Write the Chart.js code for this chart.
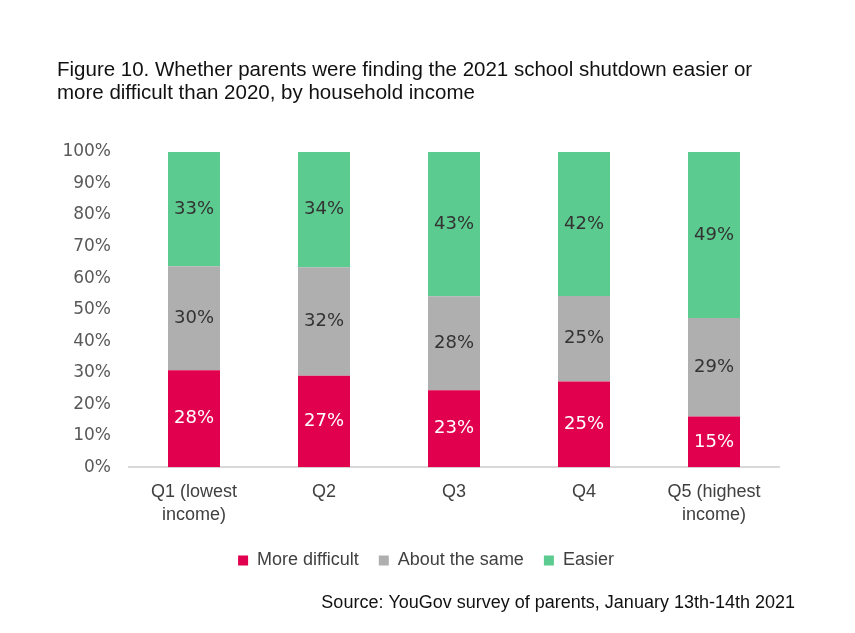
<!DOCTYPE html>
<html>
<head>
<meta charset="utf-8">
<title>Figure 10</title>
<script src="https://cdn.jsdelivr.net/npm/chart.js@4/dist/chart.umd.min.js"></script>
<style>
  html, body { margin: 0; padding: 0; background: #fff; }
  #wrap { width: 855px; height: 633px; }
</style>
</head>
<body>
<div id="wrap"><canvas id="chart"></canvas></div>
<script>
// Values as printed on the bars (they don't add to 100, bars are 100% stacked)
const categories = [['Q1 (lowest', 'income)'], 'Q2', 'Q3', 'Q4', ['Q5 (highest', 'income)']];
const moreDifficult = [28, 27, 23, 25, 15];
const aboutSame = [30, 32, 28, 25, 29];
const easier = [33, 34, 43, 42, 49];

const seriesNames = ['More difficult', 'About the same', 'Easier'];
const seriesColors = ['#E0004D', '#AFAFAF', '#5BCB8F'];
const labelColors = ['#ffffff', '#333333', '#333333'];

const raw = [moreDifficult, aboutSame, easier];
// share of each answer within its bar
const totals = categories.map((_, i) => raw.reduce((s, arr) => s + arr[i], 0));
const shares = raw.map(arr => arr.map((v, i) => v / totals[i] * 100));

// Draw the printed value in the middle of each segment
const barLabels = {
    id: 'barLabels',
    afterDatasetsDraw(chart) {
        const ctx = chart.ctx;
        ctx.save();
        ctx.font = '18px "DejaVu Sans"';
        ctx.textAlign = 'center';
        ctx.textBaseline = 'middle';
        chart.data.datasets.forEach((ds, d) => {
            const meta = chart.getDatasetMeta(d);
            ctx.fillStyle = labelColors[d];
            meta.data.forEach((bar, i) => {
                ctx.fillText(raw[d][i] + '%', bar.x, (bar.y + bar.base) / 2);
            });
        });
        ctx.restore();
    }
};

const ctx = document.getElementById('chart').getContext('2d');
new Chart(ctx, {
    type: 'bar',
    data: {
        labels: categories,
        datasets: seriesNames.map((name, d) => ({
            label: name,
            data: shares[d],
            backgroundColor: seriesColors[d],
            borderWidth: 0,
            categoryPercentage: 1,
            barPercentage: 0.4
        }))
    },
    options: {
        responsive: true,
        maintainAspectRatio: false,
        animation: false,
        layout: {
            padding: { left: 57, right: 60, top: 58, bottom: 19 }
        },
        scales: {
            x: {
                stacked: true,
                grid: { display: false },
                border: { display: true, color: '#D9D9D9', width: 2 },
                ticks: {
                    color: '#404040',
                    padding: 5,
                    maxRotation: 0,
                    font: { family: '"Liberation Sans", Arial, sans-serif', size: 18, lineHeight: 1.28 }
                }
            },
            y: {
                stacked: true,
                min: 0,
                max: 100,
                grid: { display: false },
                border: { display: false },
                ticks: {
                    stepSize: 10,
                    color: '#595959',
                    padding: 10,
                    font: { family: '"DejaVu Sans"', size: 17 },
                    callback: v => v + '%'
                },
                afterFit: scale => { scale.width = 72; }
            },
            yRight: {
                position: 'right',
                display: true,
                grid: { display: false },
                border: { display: false },
                ticks: { display: false },
                afterFit: scale => { scale.width = 16; }
            }
        },
        plugins: {
            title: {
                display: true,
                align: 'start',
                text: ['Figure 10. Whether parents were finding the 2021 school shutdown easier or',
                       'more difficult than 2020, by household income'],
                color: '#111111',
                font: { family: '"Liberation Sans", Arial, sans-serif', size: 20.5, weight: 'normal', lineHeight: 1.12 },
                padding: { top: 1, bottom: 47 }
            },
            subtitle: {
                display: true,
                position: 'bottom',
                align: 'end',
                text: 'Source: YouGov survey of parents, January 13th-14th 2021',
                color: '#111111',
                font: { family: '"Liberation Sans", Arial, sans-serif', size: 18, lineHeight: 1.2 },
                padding: { top: 13, bottom: 0 }
            },
            legend: {
                position: 'bottom',
                labels: {
                    boxWidth: 10,
                    boxHeight: 10,
                    padding: 20,
                    color: '#404040',
                    font: { family: '"Liberation Sans", Arial, sans-serif', size: 18 }
                }
            },
            tooltip: { enabled: false }
        }
    },
    plugins: [barLabels]
});
</script>
</body>
</html>
